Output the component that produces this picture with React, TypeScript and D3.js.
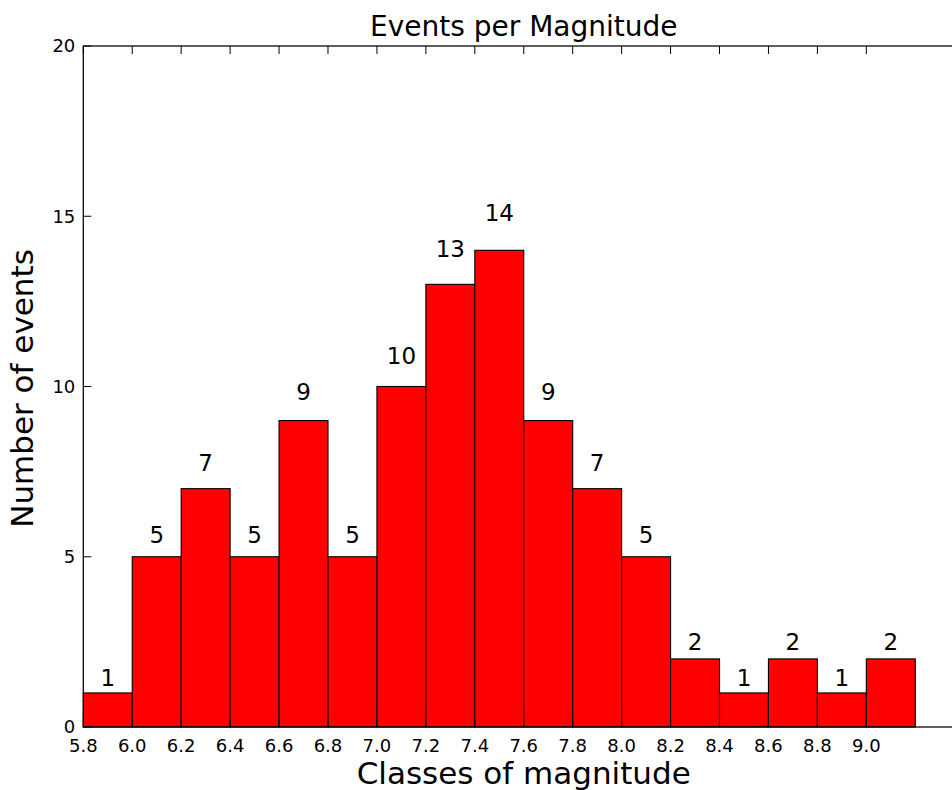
import React from 'react';
import * as d3 from 'd3';

// Histogram bins (lower/upper edges) and event counts per bin
const binEdges = [5.8, 6.0, 6.2, 6.4, 6.6, 6.8, 7.0, 7.2, 7.4, 7.6, 7.8, 8.0, 8.2, 8.4, 8.6, 8.8, 9.0, 9.2];
const counts = [1, 5, 7, 5, 9, 5, 10, 13, 14, 9, 7, 5, 2, 1, 2, 1, 2];

const xTickValues = [5.8, 6.0, 6.2, 6.4, 6.6, 6.8, 7.0, 7.2, 7.4, 7.6, 7.8, 8.0, 8.2, 8.4, 8.6, 8.8, 9.0];
const yTickValues = [0, 5, 10, 15, 20];

const xDomain = [5.8, 9.4];
const yDomain = [0, 20];

const titleText = 'Events per Magnitude';
const xLabelText = 'Classes of magnitude';
const yLabelText = 'Number of events';

const W = 952;
const H = 790;
const FONT = '"DejaVu Sans", Verdana, sans-serif';

export default function App() {
  const left = 83.3;
  const right = 964.2;
  const top = 46;
  const bottom = 727;

  const x = d3.scaleLinear().domain(xDomain).range([left, right]);
  const y = d3.scaleLinear().domain(yDomain).range([bottom, top]);

  const tickLen = 8;
  const tickFs = 18;
  const annFs = 23;

  const bars = counts.map((c, i) => ({
    x0: binEdges[i],
    x1: binEdges[i + 1],
    c,
  }));

  return (
    <svg
      width={W}
      height={H}
      viewBox={`0 0 ${W} ${H}`}
      style={{ position: 'absolute', left: 0, top: 0, background: '#fff', overflow: 'hidden' }}
      fontFamily={FONT}
    >
      <rect x={0} y={0} width={W} height={H} fill="#fff" />

      {/* bars */}
      <g>
        {bars.map((b, i) => (
          <rect
            key={i}
            x={x(b.x0)}
            y={y(b.c)}
            width={x(b.x1) - x(b.x0)}
            height={y(0) - y(b.c)}
            fill="#ff0000"
            stroke="#000"
            strokeWidth={1.1}
          />
        ))}
      </g>

      {/* value labels above bars */}
      <g fontSize={annFs} fill="#000" textAnchor="middle">
        {bars.map((b, i) => (
          <text key={i} x={x((b.x0 + b.x1) / 2)} y={y(1.05 * b.c) - 0.236 * annFs}>
            {b.c}
          </text>
        ))}
      </g>

      {/* ticks (inward) */}
      <g stroke="#000" strokeWidth={1}>
        {xTickValues.map((t) => (
          <g key={`xt${t}`}>
            <line x1={x(t)} x2={x(t)} y1={top} y2={top + tickLen} />
            <line x1={x(t)} x2={x(t)} y1={bottom} y2={bottom - tickLen} />
          </g>
        ))}
        {yTickValues.map((t) => (
          <line key={`yt${t}`} x1={left} x2={left + tickLen} y1={y(t)} y2={y(t)} />
        ))}
      </g>

      {/* spines */}
      <rect
        x={left}
        y={top}
        width={right - left}
        height={bottom - top}
        fill="none"
        stroke="#000"
        strokeWidth={1.25}
      />

      {/* tick labels */}
      <g fontSize={tickFs} fill="#000" textAnchor="middle">
        {xTickValues.map((t) => (
          <text key={`xl${t}`} x={x(t)} y={bottom + 24.5}>
            {t.toFixed(1)}
          </text>
        ))}
      </g>
      <g fontSize={tickFs} fill="#000" textAnchor="end">
        {yTickValues.map((t) => (
          <text key={`yl${t}`} x={left - 8} y={y(t)} dy="0.36em">
            {t}
          </text>
        ))}
      </g>

      {/* title and axis labels */}
      <text x={(left + right) / 2} y={36} textAnchor="middle" fontSize={28} fill="#000">
        {titleText}
      </text>
      <text x={(left + right) / 2} y={784} textAnchor="middle" fontSize={31} fill="#000">
        {xLabelText}
      </text>
      <text
        transform={`translate(33, ${(top + bottom) / 2 + 2}) rotate(-90)`}
        textAnchor="middle"
        fontSize={31}
        fill="#000"
      >
        {yLabelText}
      </text>
    </svg>
  );
}
